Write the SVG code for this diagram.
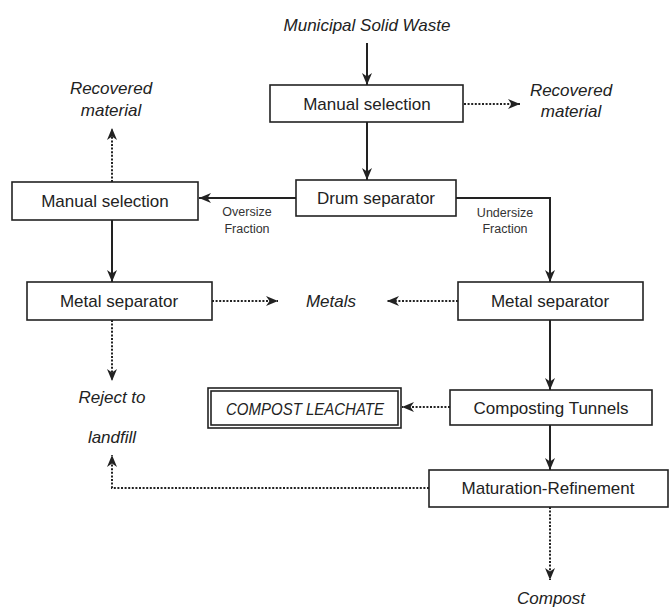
<svg xmlns="http://www.w3.org/2000/svg" width="669" height="607" viewBox="0 0 669 607">
<style>
.box{fill:#fff;stroke:#222;stroke-width:1.6}
.t{font-family:"Liberation Sans",Arial,sans-serif;font-size:17px;fill:#222;text-anchor:middle}
.i{font-family:"Liberation Sans",Arial,sans-serif;font-size:17px;font-style:italic;fill:#222;text-anchor:middle}
.s{font-family:"Liberation Sans",Arial,sans-serif;font-size:12.5px;fill:#333;text-anchor:middle}
.solid{fill:none;stroke:#222;stroke-width:2;marker-end:url(#ah)}
.dot{fill:none;stroke:#222;stroke-width:2;stroke-dasharray:2 1.6;marker-end:url(#ah)}
</style>
<defs>
<marker id="ah" markerUnits="userSpaceOnUse" markerWidth="13" markerHeight="11" viewBox="0 -5.5 13 11" refX="12" refY="0" orient="auto">
<path d="M0,-5 L12,0 L0,5 L3.5,0 z" fill="#222"/>
</marker>
</defs>
<text class="i" x="367" y="31">Municipal Solid Waste</text>
<text class="i" x="571" y="96">Recovered</text>
<text class="i" x="571" y="117">material</text>
<text class="i" x="111" y="94">Recovered</text>
<text class="i" x="111" y="116">material</text>
<text class="i" x="331" y="307">Metals</text>
<text class="i" x="112" y="403">Reject to</text>
<text class="i" x="112" y="443">landfill</text>
<text class="i" x="551" y="604">Compost</text>
<g id="connectors">
<path class="solid" d="M367,43 V85"/>
<path class="dot" d="M464,104 H520"/>
<path class="solid" d="M367,122 V180"/>
<path class="solid" d="M296,198 H199"/>
<path class="solid" d="M456,198 H550 V282"/>
<path class="dot" d="M112,182 V128"/>
<path class="solid" d="M112,220 V282"/>
<path class="dot" d="M212,301 H278"/>
<path class="dot" d="M458,301 H387"/>
<path class="solid" d="M550,320 V390"/>
<path class="dot" d="M450,407 H402"/>
<path class="dot" d="M112,320 V381"/>
<path class="solid" d="M550,425 V470"/>
<path class="dot" d="M429,488 H112 V455"/>
<path class="dot" d="M550,507 V580"/>
<text class="s" x="247" y="216">Oversize</text>
<text class="s" x="247" y="233">Fraction</text>
<text class="s" x="505" y="217">Undersize</text>
<text class="s" x="505" y="233">Fraction</text>
</g>
<g id="manual-top"><rect class="box" x="270" y="85" width="193" height="37"/><text class="t" x="367" y="110">Manual selection</text></g>
<g id="drum"><rect class="box" x="296" y="180" width="160" height="36"/><text class="t" x="376" y="204">Drum separator</text></g>
<g id="manual-left"><rect class="box" x="12" y="182" width="186" height="38"/><text class="t" x="105" y="207">Manual selection</text></g>
<g id="metal-left"><rect class="box" x="27" y="282" width="185" height="38"/><text class="t" x="119" y="307">Metal separator</text></g>
<g id="metal-right"><rect class="box" x="458" y="282" width="185" height="38"/><text class="t" x="550" y="307">Metal separator</text></g>
<g id="composting"><rect class="box" x="450" y="390" width="202" height="35"/><text class="t" x="551" y="414">Composting Tunnels</text></g>
<g id="leachate"><rect class="box" x="208" y="388" width="193" height="40"/><rect class="box" x="211" y="391" width="187" height="34"/><text class="i" x="305" y="415" style="font-size:16px" textLength="158" lengthAdjust="spacingAndGlyphs">COMPOST LEACHATE</text></g>
<g id="maturation"><rect class="box" x="429" y="470" width="239" height="37"/><text class="t" x="548" y="494">Maturation-Refinement</text></g>
</svg>
